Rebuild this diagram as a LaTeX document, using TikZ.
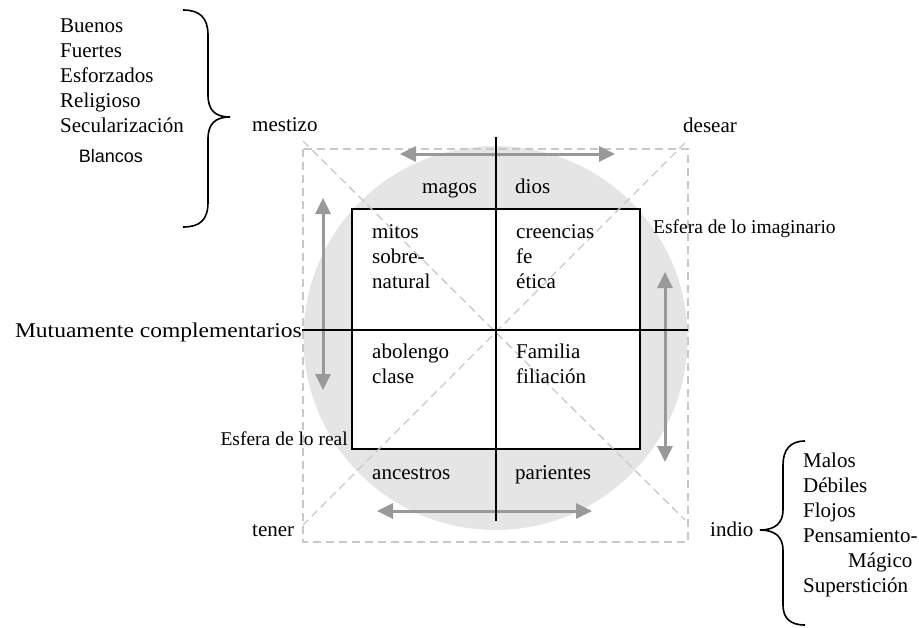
\documentclass[tikz,border=0pt]{standalone}
\usepackage{fontspec}
\setmainfont{Liberation Serif}
\newfontfamily\arialfont{Liberation Sans}
\usetikzlibrary{arrows.meta}
\definecolor{circfill}{RGB}{229,229,229}
\definecolor{dashgray}{RGB}{200,200,200}
\definecolor{arrowgray}{RGB}{153,153,153}
\tikzset{
  txt/.style={inner sep=0pt, font=\fontsize{21}{25}\selectfont, align=left},
  smalltxt/.style={inner sep=0pt, font=\fontsize{19.5}{23}\selectfont},
  guide/.style={draw=dashgray, line width=1.3pt, dash pattern=on 8pt off 5pt},
  axis/.style={draw=black, line width=1.7pt},
  grayarrow/.style={draw=arrowgray, line width=3pt, {Triangle[length=16pt,width=15pt]}-{Triangle[length=16pt,width=15pt]}},
  bracestyle/.style={draw=black, line width=1.6pt}
}
\begin{document}
\begin{tikzpicture}[x=1pt,y=-1pt]
\useasboundingbox (0,0) rectangle (919,627);
% background circle
\fill[circfill] (495.5,338) circle (192pt);
% inner rectangle
\node[draw=black, line width=1.6pt, fill=white, minimum width=288pt, minimum height=240pt, inner sep=0pt] (grid) at (496,329) {};
% dashed square and diagonals
\coordinate (sqTL) at (303,149);
\coordinate (sqBR) at (688,542);
\draw[guide] (sqTL) rectangle (sqBR);
\coordinate (dA) at (303,141);
\coordinate (dB) at (685,520);
\coordinate (dC) at (685,143);
\coordinate (dD) at (303,525);
\draw[guide] (dA) -- (dB);
\draw[guide] (dC) -- (dD);
% gray arrows
\coordinate (tA) at (400,154); \coordinate (tB) at (615,154);
\coordinate (bA) at (377,511); \coordinate (bB) at (592,511);
\coordinate (lA) at (323,198); \coordinate (lB) at (323,390);
\coordinate (rA) at (665,272); \coordinate (rB) at (665,462);
\draw[grayarrow] (tA) -- (tB);
\draw[grayarrow] (bA) -- (bB);
\draw[grayarrow] (lA) -- (lB);
\draw[grayarrow] (rA) -- (rB);
% axes
\node[txt, anchor=base east, font=\fontsize{21}{25}\selectfont] (mut) at (302,337) {\scalebox{1.12}[1]{Mutuamente complementarios}};
\coordinate (hEnd) at (688,330);
\coordinate (vTop) at (496,137);
\coordinate (vBot) at (496,521);
\draw[axis] (mut.east |- hEnd) -- (hEnd);
\draw[axis] (vTop) -- (vBot);
% cell texts (multi-line nodes: base = baseline of last line)
\node[txt, anchor=base west] (magos) at (422,193) {magos};
\node[txt, anchor=base west] (dios) at (515,193) {dios};
\node[txt, anchor=base west] (mitos) at (372,288) {mitos\\sobre-\\natural};
\node[txt, anchor=base west] (creencias) at (516,288) {creencias\\fe\\ética};
\node[txt, anchor=base west] (abolengo) at (372,383) {abolengo\\clase};
\node[txt, anchor=base west] (familia) at (516,383) {Familia\\filiación};
\node[txt, anchor=base west] (ancestros) at (372,479) {ancestros};
\node[txt, anchor=base west] (parientes) at (515,479) {parientes};
% corner labels
\node[txt, anchor=base west] (mestizo) at (252,131) {mestizo};
\node[txt, anchor=base west] (desear) at (683,132) {desear};
\node[txt, anchor=base west] (tener) at (252,536) {tener};
\node[txt, anchor=base west] (indio) at (710,536) {indio};
\node[smalltxt, anchor=base west] (imag) at (653,233) {Esfera de lo imaginario};
\node[smalltxt, anchor=base east] (real) at (348,445) {Esfera de lo real};
% left list
\node[txt, anchor=base west] (blist) at (60,132) {Buenos\\Fuertes\\Esforzados\\Religioso\\Secularización};
\node[inner sep=0pt, anchor=base east, font=\arialfont\fontsize{18}{22}\selectfont] (blancos) at (143,162) {Blancos};
\draw[bracestyle] (183,10) .. controls (200,10) and (208,18) .. (208,35) -- (208,95) .. controls (208,110) and (215,117) .. (230,117) .. controls (215,117) and (208,124) .. (208,139) -- (208,202) .. controls (208,220) and (200,227) .. (183,227);
% right list
\node[txt, anchor=base west] (mlist) at (803,592) {Malos\\Débiles\\Flojos\\Pensamiento-\\\hspace*{45pt}Mágico\\Superstición};
\draw[bracestyle] (805,441) .. controls (790,441) and (783,450) .. (783,465) -- (783,510) .. controls (783,523) and (775,530) .. (760,530) .. controls (775,530) and (783,537) .. (783,550) -- (783,605) .. controls (783,618) and (790,625) .. (805,625);
\end{tikzpicture}
\end{document}
